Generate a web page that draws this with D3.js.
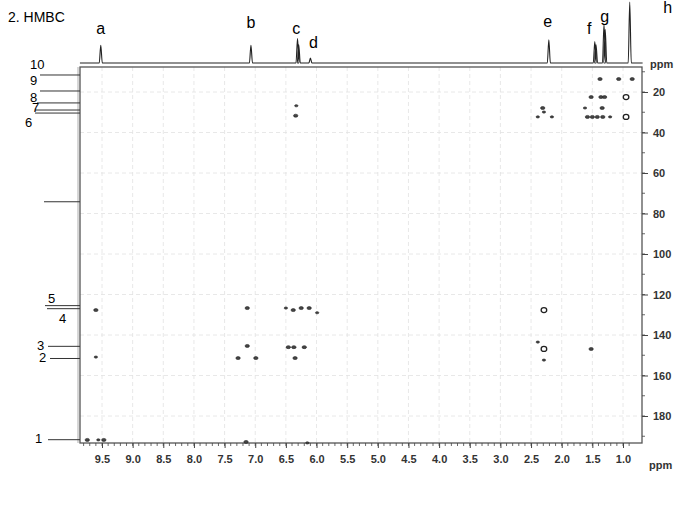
<!DOCTYPE html>
<html>
<head>
<meta charset="utf-8">
<script src="https://cdn.jsdelivr.net/npm/d3@7"></script>
<style>
  body { margin: 0; background: #fff; }
  svg text { font-family: "Liberation Sans", Arial, sans-serif; }
</style>
</head>
<body>
<div class="chart"></div>
<script>
var width = 685;
var height = 510;

// 1H projection peaks (shift ppm, relative height)
var protonShifts  = [9.52, 7.07, 6.31, 6.29, 6.10, 2.21, 1.46, 1.44, 1.31, 1.29, 0.89];
var protonHeights = [29,   29,   40,   30,   8,    38,   35,   30,   63,   55,   100];
var peakLetters = ['a', 'b', 'c', 'd', 'e', 'f', 'g', 'h'];
var letterShifts = [9.52, 7.07, 6.33, 6.05, 2.23, 1.55, 1.30, 0.27];

// 13C reference lines on the left
var carbonLabels = ['10', '9', '8', '7', '6', '', '5', '4', '3', '2', '1'];
var carbonShifts = [11.6, 19.5, 25.4, 28.9, 30.4, 74.2, 125.5, 127.0, 145.6, 151.6, 191.7];

// HMBC cross peaks: 1H shift, 13C shift, intensity (1 weak .. 3 strong)
var crossH = [1.375, 1.07, 0.85,
              1.52, 1.36, 1.30, 0.95,
              2.31, 1.62, 1.34, 2.29,
              2.39, 2.16, 1.58, 1.50, 1.42, 1.33, 1.21, 0.95,
              6.33, 6.34,
              9.60, 9.60,
              7.13, 7.13, 7.28, 6.99,
              6.50, 6.38, 6.25, 6.12, 5.99,
              6.46, 6.37, 6.20, 6.35,
              9.74, 9.56, 9.47, 7.15, 6.15,
              2.29, 2.29, 2.29, 2.39, 1.52];
var crossC = [13.6, 13.6, 13.6,
              22.5, 22.5, 22.5, 22.5,
              27.9, 27.9, 27.9, 29.9,
              32.3, 32.3, 32.3, 32.3, 32.3, 32.3, 32.3, 32.3,
              26.8, 31.7,
              127.7, 150.9,
              126.7, 145.4, 151.4, 151.4,
              126.7, 127.7, 126.7, 126.7, 129.0,
              146.0, 146.0, 146.0, 151.4,
              191.8, 191.8, 191.8, 192.8, 193.3,
              127.7, 146.9, 152.4, 143.5, 146.9];
var crossI = [2, 2, 2,
              2, 2, 2, 3,
              2, 1, 2, 1,
              1, 1, 2, 2, 2, 2, 1, 3,
              1, 2,
              2, 1,
              2, 2, 2, 2,
              1, 2, 2, 2, 1,
              2, 2, 2, 2,
              2, 1, 2, 2, 1,
              3, 3, 1, 1, 2];

var xTicks = [9.5, 9.0, 8.5, 8.0, 7.5, 7.0, 6.5, 6.0, 5.5, 5.0, 4.5, 4.0, 3.5, 3.0, 2.5, 2.0, 1.5, 1.0];
var yTicks = [20, 40, 60, 80, 100, 120, 140, 160, 180];

var plot = {left: 80, right: 642, top: 67, bottom: 443};

// scales
var x = d3.scaleLinear().domain([9.5, 1.0]).range([102, 623]);
var y = d3.scaleLinear().domain([20, 180]).range([92, 416]);
var yProj = d3.scaleLinear().domain([0, 100]).range([63, 2]);

var svg = d3.select('.chart').append('svg')
  .attr('width', width)
  .attr('height', height);

svg.append('text')
  .attr('x', 8).attr('y', 22)
  .attr('font-size', 14)
  .text('2.  HMBC');

// grid
var grid = svg.append('g').attr('stroke', '#e2e2e2').attr('stroke-dasharray', '4,3').attr('stroke-width', 0.8);
grid.selectAll('.vg').data(xTicks).enter().append('line')
  .attr('x1', function(d){ return x(d); }).attr('x2', function(d){ return x(d); })
  .attr('y1', plot.top).attr('y2', plot.bottom);
grid.selectAll('.hg').data(yTicks).enter().append('line')
  .attr('y1', function(d){ return y(d); }).attr('y2', function(d){ return y(d); })
  .attr('x1', plot.left).attr('x2', plot.right);

// frame
svg.append('rect')
  .attr('x', plot.left).attr('y', plot.top)
  .attr('width', plot.right - plot.left).attr('height', plot.bottom - plot.top)
  .attr('fill', 'none').attr('stroke', '#555').attr('stroke-width', 1.3);
svg.append('line')
  .attr('x1', plot.left - 2).attr('x2', plot.left - 2)
  .attr('y1', plot.top).attr('y2', plot.bottom)
  .attr('stroke', '#999').attr('stroke-width', 0.8);

// bottom axis
var xMinor = d3.range(0, 90).map(function(i){ return +(9.8 - i * 0.1).toFixed(1); })
  .filter(function(d){ return d >= 0.7; });
var xAxis = d3.axisBottom(x).tickValues(xTicks).tickFormat(d3.format('.1f')).tickSize(5).tickPadding(7);
var gx = svg.append('g').attr('transform', 'translate(0,' + plot.bottom + ')').call(xAxis);
gx.select('.domain').remove();
gx.selectAll('.tick line').attr('stroke', '#444');
gx.selectAll('text').attr('font-size', 11).attr('font-weight', 'bold').attr('fill', '#333')
  .style('font-family', '"Liberation Sans", Arial, sans-serif');
svg.append('g').selectAll('line').data(xMinor).enter().append('line')
  .attr('x1', function(d){ return x(d); }).attr('x2', function(d){ return x(d); })
  .attr('y1', plot.bottom).attr('y2', plot.bottom + 3)
  .attr('stroke', '#444').attr('stroke-width', 0.8);

// right axis
var yMinor = d3.range(10, 200, 10);
var yAxis = d3.axisRight(y).tickValues(yTicks).tickSize(6).tickPadding(5);
var gy = svg.append('g').attr('transform', 'translate(' + plot.right + ',0)').call(yAxis);
gy.select('.domain').remove();
gy.selectAll('.tick line').attr('stroke', '#444');
gy.selectAll('text').attr('font-size', 11).attr('font-weight', 'bold').attr('fill', '#333')
  .style('font-family', '"Liberation Sans", Arial, sans-serif');
svg.append('g').selectAll('line').data(yMinor).enter().append('line')
  .attr('y1', function(d){ return y(d); }).attr('y2', function(d){ return y(d); })
  .attr('x1', plot.right).attr('x2', plot.right + 3)
  .attr('stroke', '#444').attr('stroke-width', 0.8);

svg.append('text').attr('x', 649).attr('y', 469)
  .attr('font-size', 11).attr('font-weight', 'bold').attr('fill', '#333').text('ppm');
svg.append('text').attr('x', 650).attr('y', 68)
  .attr('font-size', 11).attr('font-weight', 'bold').attr('fill', '#333').text('ppm');

// 1H projection: baseline plus one spike per peak
var projPts = [[9.86, 0]];
var order = d3.range(protonShifts.length).sort(function(a, b){ return protonShifts[b] - protonShifts[a]; });
order.forEach(function(i){
  projPts.push([protonShifts[i] + 0.025, 0]);
  projPts.push([protonShifts[i], protonHeights[i]]);
  projPts.push([protonShifts[i] - 0.025, 0]);
});
projPts.push([0.68, 0]);
var projLine = d3.line()
  .x(function(d){ return x(d[0]); })
  .y(function(d){ return yProj(d[1]); })
  .curve(d3.curveMonotoneX);
svg.append('path')
  .attr('d', projLine(projPts))
  .attr('fill', 'none').attr('stroke', '#222').attr('stroke-width', 1.1);

var letterY = [34, 28, 34, 48, 27, 34, 22, 13];
svg.selectAll('.plab').data(peakLetters).enter().append('text')
  .attr('x', function(d, i){ return x(letterShifts[i]); })
  .attr('y', function(d, i){ return letterY[i]; })
  .attr('text-anchor', 'middle')
  .attr('font-size', 16)
  .text(function(d){ return d; });

// 13C reference lines and labels (layout per label)
var labelDy = {'10': -6, '9': -6, '8': -1, '7': 2, '6': 14, '5': -3, '4': 14, '3': 4, '2': 4, '1': 3};
var labelX  = {'10': 30, '9': 30, '8': 30, '7': 32, '6': 25, '5': 48, '4': 59, '3': 37, '2': 39, '1': 35};
var lineX   = {'10': 40, '9': 40, '8': 37, '7': 35, '6': 35, '': 44, '5': 45, '4': 47, '3': 48, '2': 50, '1': 48};
var cg = svg.append('g');
carbonShifts.forEach(function(s, i){
  var lab = carbonLabels[i];
  cg.append('line')
    .attr('x1', lineX[lab]).attr('x2', plot.left)
    .attr('y1', y(s)).attr('y2', y(s))
    .attr('stroke', '#333').attr('stroke-width', 1);
  if (lab !== '') {
    cg.append('text')
      .attr('x', labelX[lab])
      .attr('y', y(s) + labelDy[lab])
      .attr('font-size', 13)
      .text(lab);
  }
});

// cross peaks
var rx = [0, 1.7, 2.2, 2.8];
var ry = [0, 1.1, 1.5, 2.5];
svg.append('g').selectAll('ellipse').data(crossH).enter().append('ellipse')
  .attr('cx', function(d){ return x(d); })
  .attr('cy', function(d, i){ return y(crossC[i]); })
  .attr('rx', function(d, i){ return rx[crossI[i]]; })
  .attr('ry', function(d, i){ return ry[crossI[i]]; })
  .attr('fill', function(d, i){ return crossI[i] === 3 ? '#fff' : '#444'; })
  .attr('stroke', '#222')
  .attr('stroke-width', function(d, i){ return crossI[i] === 3 ? 1.3 : 0.6; });
</script>
</body>
</html>
